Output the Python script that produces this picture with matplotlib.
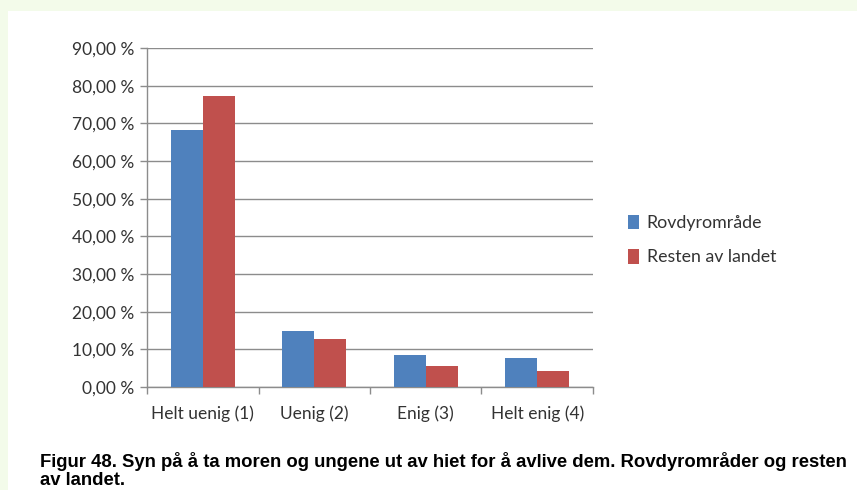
import numpy as np
import matplotlib
matplotlib.use("Agg")
import matplotlib.pyplot as plt
from matplotlib.patches import Rectangle

categories = ["Helt uenig (1)", "Uenig (2)", "Enig (3)", "Helt enig (4)"]
rovdyr = [68.2, 14.9, 8.5, 7.6]
resten = [77.2, 12.7, 5.7, 4.2]
series_names = ["Rovdyrområde", "Resten av landet"]
yticks = [0, 10, 20, 30, 40, 50, 60, 70, 80, 90]
caption_lines = ["Figur 48. Syn på å ta moren og ungene ut av hiet for å avlive dem. "
                 "Rovdyrområder og resten", "av landet."]

W, H = 857, 490
fig = plt.figure(figsize=(W / 100, H / 100), dpi=100)
fig.patch.set_facecolor("#F3FBEA")
bg = Rectangle((8 / W, 0), 1, 1 - 11 / H, transform=fig.transFigure,
               facecolor="white", edgecolor="none", zorder=-10)
fig.add_artist(bg)

ax = fig.add_axes([147 / W, 1 - 387 / H, (593 - 147) / W, (387 - 48) / H])
ax.set_zorder(5)
ax.set_facecolor("none")

x = np.arange(len(categories))
bw = 0.287
ax.bar(x - bw / 2, rovdyr, bw, color="#4F81BD", label=series_names[0], zorder=3)
ax.bar(x + bw / 2, resten, bw, color="#C0504D", label=series_names[1], zorder=3)

ax.set_xlim(-0.5, len(categories) - 0.5)
ax.set_ylim(0, 90)
ax.set_yticks(yticks)
ax.set_yticklabels([("%.2f" % v).replace(".", ",") + " %" for v in yticks])
ax.yaxis.grid(True, color="#8C8C8C", linewidth=1, zorder=0)
ax.set_axisbelow(True)

ax.set_xticks(x)
ax.set_xticklabels(categories)
ax.set_xticks(np.arange(-0.5, len(categories)), minor=True)
ax.tick_params(axis="x", which="major", length=0, pad=13)
ax.tick_params(axis="x", which="minor", length=5, color="#8C8C8C", width=1)
ax.tick_params(axis="y", length=5, color="#8C8C8C", width=1, pad=4)
for lab in ax.get_xticklabels() + ax.get_yticklabels():
    lab.set_fontfamily("Lato")
    lab.set_fontsize(12.5)
    lab.set_color("#333333")

for side in ["top", "right"]:
    ax.spines[side].set_visible(False)
for side in ["left", "bottom"]:
    ax.spines[side].set_color("#8C8C8C")
    ax.spines[side].set_linewidth(1)

leg = ax.legend(loc="center left", bbox_to_anchor=(612 / W, 1 - 240 / H),
                bbox_transform=fig.transFigure, frameon=False,
                prop={"family": "Lato", "size": 12.8}, handlelength=0.6,
                handleheight=0.9, labelspacing=1.0, handletextpad=0.45)
for t in leg.get_texts():
    t.set_color("#333333")

fig.text(40 / W, 1 - 467 / H, caption_lines[0], fontsize=13.3, fontweight="bold",
         family=["Liberation Sans", "DejaVu Sans"], va="baseline", ha="left")
fig.text(40 / W, 1 - 485 / H, caption_lines[1], fontsize=13.3, fontweight="bold",
         family=["Liberation Sans", "DejaVu Sans"], va="baseline", ha="left")

fig.savefig("out.png", dpi=100, facecolor=fig.get_facecolor())
